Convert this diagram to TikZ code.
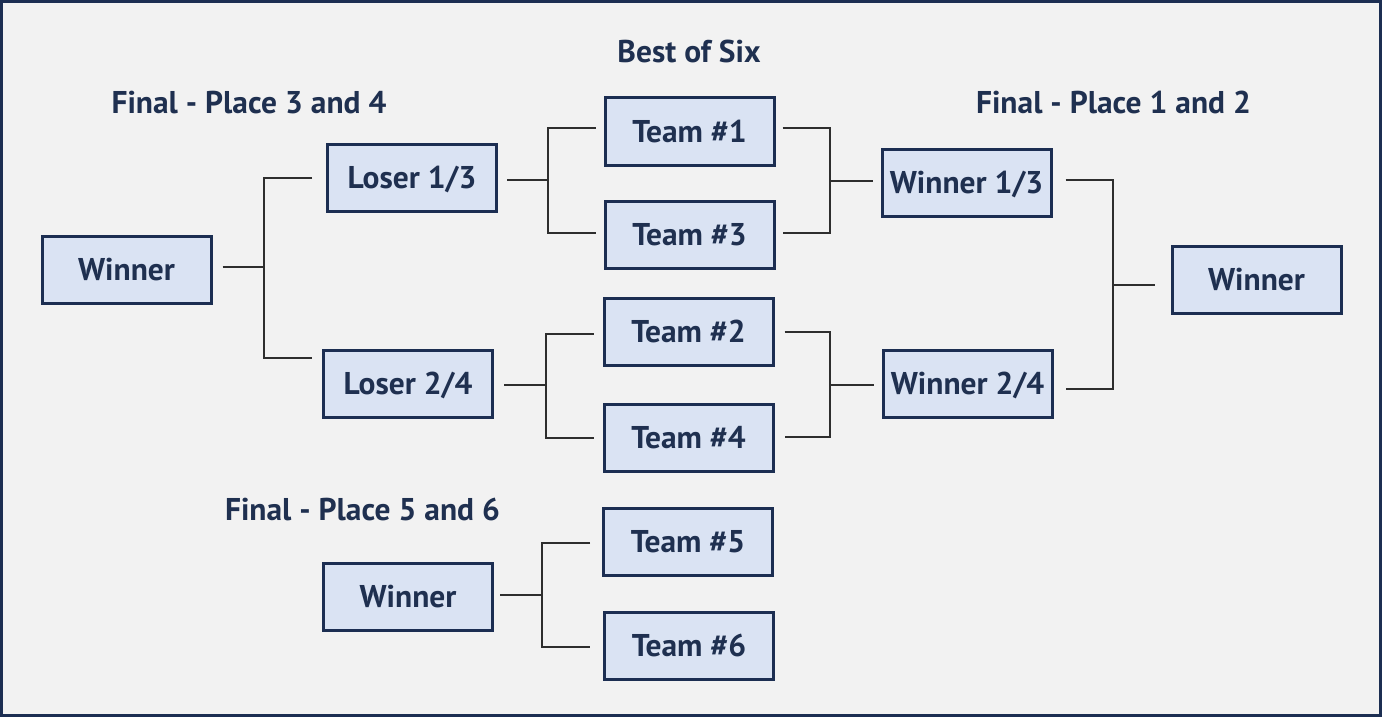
\documentclass[tikz,border=0pt]{standalone}
\usepackage{fontspec}
\setmainfont{PT Sans}
\definecolor{navy}{HTML}{1C2E52}
\definecolor{txt}{HTML}{1F3050}
\definecolor{boxfill}{HTML}{DAE3F3}
\definecolor{bg}{HTML}{F2F2F2}
\definecolor{wirec}{HTML}{2E2E2E}
\tikzset{
  teambox/.style={draw=navy, line width=2.25pt, fill=boxfill, minimum width=126.75pt, minimum height=50.25pt, inner sep=0pt,
    text=txt, font=\bfseries\fontsize{23.6}{28}\selectfont, text height=16.3pt, text depth=0pt},
  title/.style={text=txt, font=\bfseries\fontsize{23.6}{28}\selectfont, inner sep=0pt, text height=16.3pt, text depth=0pt},
  wire/.style={draw=wirec, line width=0.95pt}
}
\begin{document}
\begin{tikzpicture}[x=0.75pt,y=-0.75pt]
\useasboundingbox (0,0) rectangle (1382,717);
\draw[fill=bg, draw=navy, line width=2.25pt] (1.5,1.5) rectangle (1380.5,715.5);

% titles
\node[title] (tbest) at (689,52) {Best of Six};
\node[title] (t34) at (249,103) {Final - Place 3 and 4};
\node[title] (t12) at (1113.5,103) {Final - Place 1 and 2};
\node[title] (t56) at (362.5,510) {Final - Place 5 and 6};

% boxes
\node[teambox] (winL) at (126.5,270) {Winner};
\node[teambox] (l13) at (412,178) {Loser 1/3};
\node[teambox] (l24) at (408,384) {Loser 2/4};
\node[teambox] (t1) at (689.5,131.5) {Team \#1};
\node[teambox] (t3) at (689.5,235) {Team \#3};
\node[teambox] (t2) at (688.5,331.5) {Team \#2};
\node[teambox] (t4) at (688.5,438) {Team \#4};
\node[teambox] (t5) at (688,541.5) {Team \#5};
\node[teambox] (t6) at (689,645.5) {Team \#6};
\node[teambox] (w13) at (966.5,183) {Winner 1/3};
\node[teambox] (w24) at (967.5,384) {Winner 2/4};
\node[teambox] (winR) at (1256.5,280) {Winner};
\node[teambox] (winB) at (408,596.5) {Winner};

% junctions
\coordinate (jA) at (548,180);
\coordinate (jB) at (830,181);
\coordinate (jC) at (1113,285);
\coordinate (jD) at (264,267);
\coordinate (jE) at (546,385);
\coordinate (jF) at (830,385);
\coordinate (jG) at (542,595);

% bracket A: Loser 1/3 <- Team 1, Team 3
\draw[wire] ([shift={(-8,-3.5)}]t1.west) -| (jA) |- ([shift={(-8,-2)}]t3.west);
\draw[wire] ([shift={(9,2)}]l13.east) -- (jA);
% bracket B: Team 1, Team 3 -> Winner 1/3
\draw[wire] ([shift={(7,-3.5)}]t1.east) -| (jB) |- ([shift={(7,-2)}]t3.east);
\draw[wire] (jB) -- ([shift={(-8,-2)}]w13.west);
% bracket C: Winner 1/3, Winner 2/4 -> Winner
\draw[wire] ([shift={(13,-3)}]w13.east) -| (jC) |- ([shift={(12,5)}]w24.east);
\draw[wire] (jC) -- ([shift={(-16,5)}]winR.west);
% bracket D: Winner <- Loser 1/3, Loser 2/4
\draw[wire] ([shift={(-14,0)}]l13.west) -| (jD) |- ([shift={(-10,-26)}]l24.west);
\draw[wire] ([shift={(10,-3)}]winL.east) -- (jD);
% bracket E: Loser 2/4 <- Team 2, Team 4
\draw[wire] ([shift={(-9,2.5)}]t2.west) -| (jE) |- ([shift={(-9,0)}]t4.west);
\draw[wire] ([shift={(10,1)}]l24.east) -- (jE);
% bracket F: Team 2, Team 4 -> Winner 2/4
\draw[wire] ([shift={(10,0.5)}]t2.east) -| (jF) |- ([shift={(10,-1)}]t4.east);
\draw[wire] (jF) -- ([shift={(-8,1)}]w24.west);
% bracket G: Winner <- Team 5, Team 6
\draw[wire] ([shift={(-12,1.5)}]t5.west) -| (jG) |- ([shift={(-13,1.5)}]t6.west);
\draw[wire] ([shift={(6,-1.5)}]winB.east) -- (jG);
\end{tikzpicture}
\end{document}
